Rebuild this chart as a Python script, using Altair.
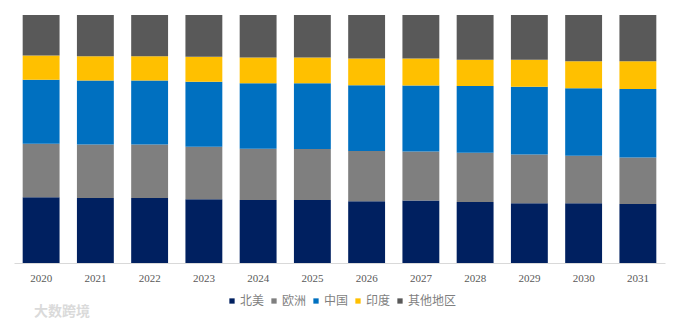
import altair as alt
import pandas as pd

years = [str(y) for y in range(2020, 2032)]
regions = ["北美", "欧洲", "中国", "印度", "其他地区"]
colors = ["#002060", "#7F7F7F", "#0070C0", "#FFC000", "#595959"]

north_america = [26.5, 26.2, 26.2, 25.7, 25.4, 25.4, 24.9, 25.2, 24.6, 24.1, 24.1, 23.8]
europe        = [21.5, 21.5, 21.5, 21.1, 20.7, 20.6, 20.3, 19.8, 19.8, 19.7, 19.1, 18.7]
china         = [25.8, 25.8, 25.8, 26.2, 26.4, 26.5, 26.5, 26.6, 26.9, 27.3, 27.3, 27.7]
india         = [9.8, 9.8, 9.8, 10.1, 10.4, 10.4, 10.8, 10.9, 10.6, 10.9, 10.9, 11.2]
others        = [16.3, 16.6, 16.6, 16.8, 17.1, 17.1, 17.5, 17.5, 18.0, 18.0, 18.6, 18.6]

series = [north_america, europe, china, india, others]
rows = []
for ri, (name, vals) in enumerate(zip(regions, series)):
    for y, v in zip(years, vals):
        rows.append({"year": y, "region": name, "value": v, "order": ri})
df = pd.DataFrame(rows)

bars = alt.Chart(df).mark_bar().encode(
    x=alt.X("year:O", title=None,
            scale=alt.Scale(paddingInner=0.32, paddingOuter=0.16),
            axis=alt.Axis(labelAngle=0, ticks=False, domainColor="#D9D9D9",
                          labelColor="#595959", labelFont="Liberation Serif",
                          labelFontSize=11, labelPadding=9)),
    y=alt.Y("value:Q", stack="normalize", title=None, axis=None,
            scale=alt.Scale(domain=[0, 1], nice=False)),
    color=alt.Color("region:N",
                    scale=alt.Scale(domain=regions, range=colors),
                    legend=alt.Legend(orient="none", legendX=212, legendY=280,
                                      direction="horizontal", columns=5, title=None,
                                      symbolType="square", symbolSize=28,
                                      symbolStrokeWidth=0, labelOffset=2,
                                      columnPadding=3, padding=0,
                                      labelFont="Noto Sans CJK SC", labelFontSize=12,
                                      labelColor="#7F7F7F")),
    order=alt.Order("order:Q", sort="ascending"),
)

watermark = alt.Chart(pd.DataFrame({"t": ["大数跨境"]})).mark_text(
    align="left", baseline="middle", fontSize=14, color="#DADADA",
    font="Noto Sans CJK SC", fontWeight="bold"
).encode(x=alt.value(20), y=alt.value(297), text="t:N")

chart = alt.layer(bars, watermark).properties(
    width=651, height=248,
    padding={"left": 14, "top": 15, "right": 16, "bottom": 5},
).configure_view(stroke=None)

chart.save("out.html", embed_options={"renderer": "svg", "actions": False})
